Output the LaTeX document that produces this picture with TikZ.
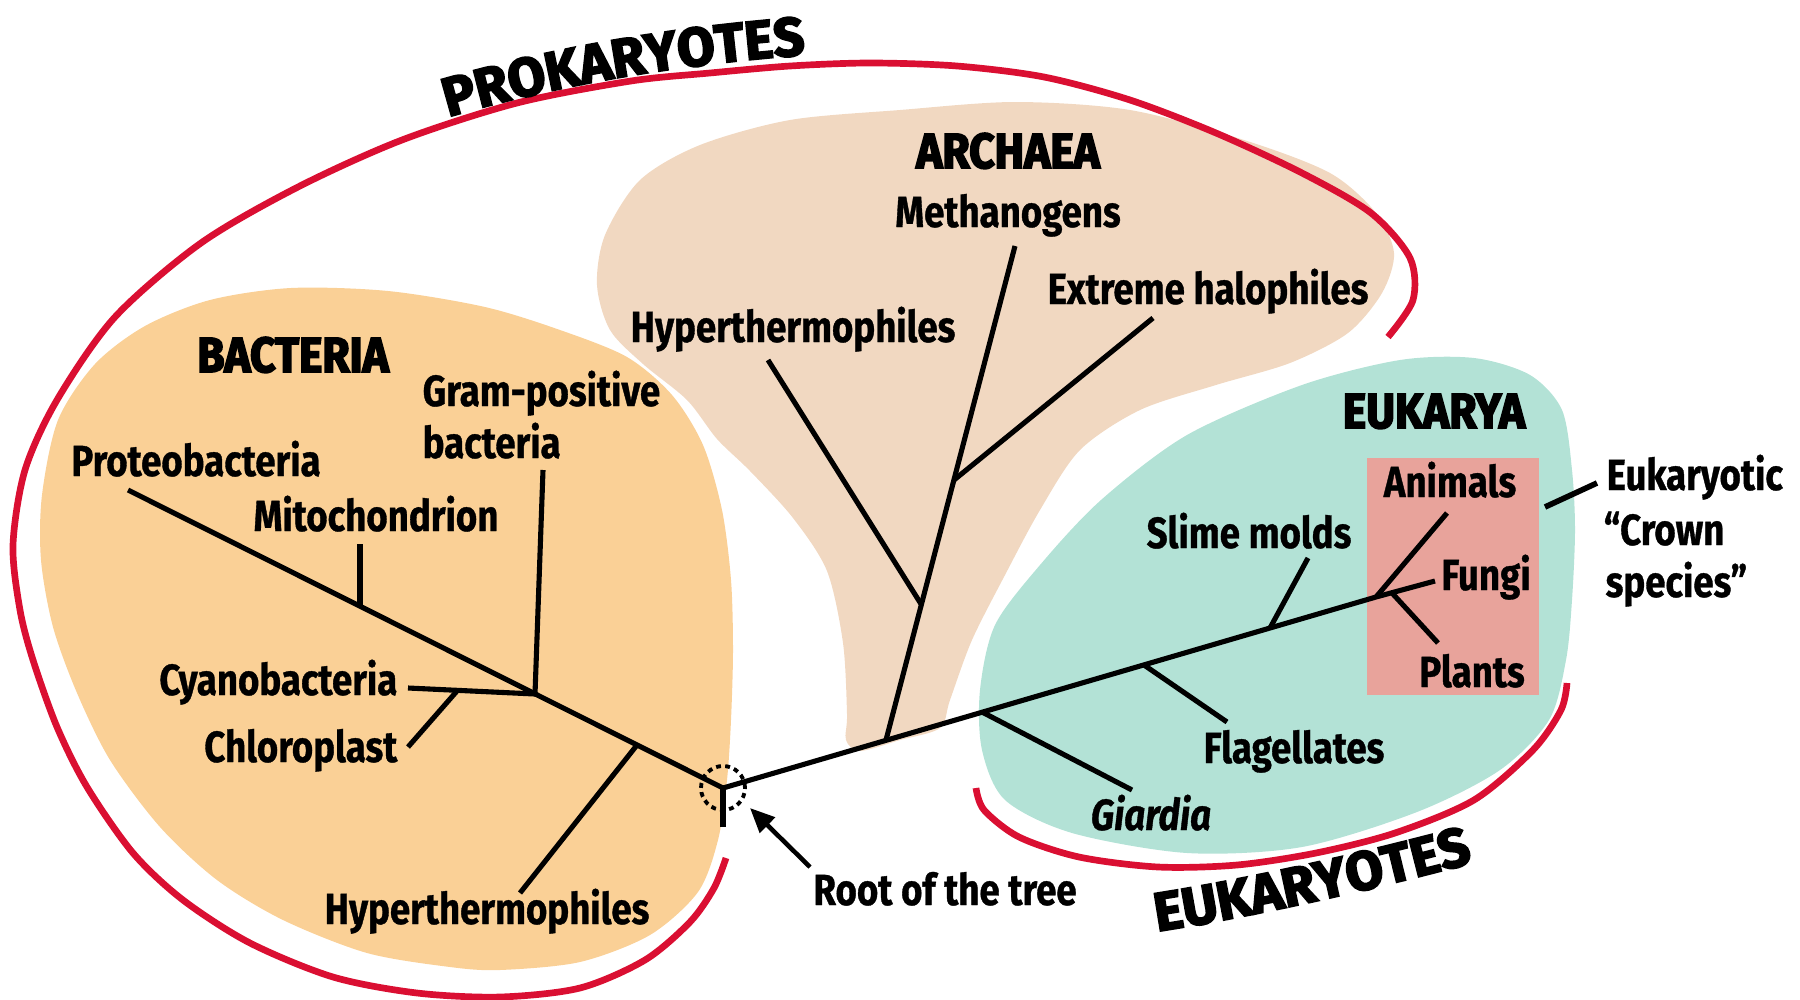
\documentclass[tikz,border=0pt]{standalone}
\usepackage{fontspec}
\usepackage{xcolor}
\usepackage{tikz}
\usetikzlibrary{arrows.meta,decorations.text}
\newfontfamily\labelfont{Fira Sans}[FakeStretch=0.84,FakeBold=0.8]
\newfontfamily\headfont{Fira Sans}[FakeStretch=0.9,FakeBold=3.5]
\newfontfamily\namefont{Fira Sans}[FakeStretch=1.0,FakeBold=3.5]
\definecolor{bactorange}{HTML}{FAD096}
\definecolor{archbeige}{HTML}{F1D8C1}
\definecolor{eukgreen}{HTML}{B3E2D6}
\definecolor{crownpink}{HTML}{E8A39B}
\definecolor{arcred}{HTML}{DA0F32}

\begin{document}
\begin{tikzpicture}[x=0.01cm,y=-0.01cm,
  lbl/.style={font=\labelfont\bfseries\fontsize{12.4}{15}\selectfont,inner sep=0pt,anchor=base},
  lblit/.style={lbl,font=\labelfont\bfseries\itshape\fontsize{12.4}{15}\selectfont},
  head/.style={font=\headfont\bfseries\fontsize{14}{16}\selectfont,inner sep=0pt,anchor=base},
  branch/.style={line width=1.45pt},
  redarc/.style={arcred,line width=1.9pt}]
  \useasboundingbox (0,0) rectangle (1800,1000);
  % domain shapes
  \fill[bactorange] plot[smooth cycle] coordinates {(291,288) (388,291) (485,307) (560,330) (627,357)
    (672,395) (703,445) (722,510) (731,580) (733,650) (731,720) (727,780) (718,840) (698,892)
    (650,935) (580,962) (500,970) (450,967) (367,953) (283,920) (217,880) (160,827) (110,760)
    (77,693) (53,627) (41,560) (42,495) (58,420) (95,364) (145,326) (210,300)};
  \fill[archbeige] plot[smooth cycle] coordinates {(900,110) (1015,102) (1130,110) (1244,140)
    (1330,173) (1376,213) (1394,253) (1382,293) (1348,333) (1290,363) (1216,385) (1140,410)
    (1080,450) (1040,510) (1005,575) (972,640) (950,700) (940,728) (900,740) (860,751)
    (846,740) (847,714) (843,643) (827,571) (793,518) (750,471) (717,439) (687,400) (643,364)
    (610,330) (597,285) (605,235) (640,180) (700,145) (790,120)};
  \fill[eukgreen] plot[smooth cycle] coordinates {(1474,358) (1530,375) (1562,410) (1572,470)
    (1575,530) (1572,600) (1566,660) (1549,720) (1500,770) (1417,812) (1302,847) (1187,853)
    (1072,833) (1005,800) (982,750) (980,690) (995,625) (1040,565) (1101,500) (1187,435)
    (1302,385) (1400,360)};
  \fill[crownpink] (1367,458) rectangle (1539,695);
  % red brackets
  \draw[redarc] plot[smooth] coordinates {(1388,337) (1413,300) (1410,258) (1371,213) (1302,173)
    (1216,133) (1130,100) (1044,77) (957,66) (870,63) (790,66) (710,73) (631,81) (517,103)
    (402,140) (298,187) (201,243) (115,317) (57,400) (25,470) (13,545) (20,610) (33,660)
    (57,727) (87,787) (133,853) (183,900) (250,943) (333,977) (417,993) (500,997) (580,988)
    (645,960) (690,922) (714,888) (726,858)};
  \draw[redarc] plot[smooth] coordinates {(976,788) (984,810) (1019,837) (1079,857) (1158,867)
    (1237,865) (1316,853) (1395,833) (1474,800) (1533,750) (1561,710) (1567,683)};
  % tree points
  \coordinate (root) at (723,788);
  \coordinate (rootend) at (723,827);
  \coordinate (proteotip) at (128,490);
  \coordinate (mitoj) at (360,606);
  \coordinate (mitotip) at (360,544);
  \coordinate (gramj) at (535,694);
  \coordinate (gramtip) at (543,470);
  \coordinate (cyanotip) at (408,688);
  \coordinate (chloroj) at (457,691);
  \coordinate (chlorotip) at (408,747);
  \coordinate (hypbj) at (637,745);
  \coordinate (hypbtip) at (520,893);
  \coordinate (archj) at (886,740);
  \coordinate (methtip) at (1015,246);
  \coordinate (hypaj) at (921,604);
  \coordinate (hypatip) at (768,360);
  \coordinate (haloj) at (954,480);
  \coordinate (halotip) at (1153,318);
  \coordinate (giardiaj) at (982,712);
  \coordinate (giardiatip) at (1132,790);
  \coordinate (flagj) at (1144,665);
  \coordinate (flagtip) at (1227,722);
  \coordinate (slimej) at (1270,628);
  \coordinate (slimetip) at (1308,558);
  \coordinate (crownj) at (1376,597);
  \coordinate (fungitip) at (1435,581);
  \coordinate (animaltip) at (1447,513);
  \coordinate (plantj) at (1392,593);
  \coordinate (planttip) at (1438,643);
  % branches
  \draw[branch] (proteotip) -- (root) -- (crownj) -- (fungitip);
  \draw[branch] (root) -- (rootend);
  \draw[branch] (mitoj) -- (mitotip);
  \draw[branch] (gramj) -- (gramtip);
  \draw[branch] (gramj) -- (cyanotip);
  \draw[branch] (chloroj) -- (chlorotip);
  \draw[branch] (hypbj) -- (hypbtip);
  \draw[branch] (archj) -- (methtip);
  \draw[branch] (hypaj) -- (hypatip);
  \draw[branch] (haloj) -- (halotip);
  \draw[branch] (giardiaj) -- (giardiatip);
  \draw[branch] (flagj) -- (flagtip);
  \draw[branch] (slimej) -- (slimetip);
  \draw[branch] (crownj) -- (animaltip);
  \draw[branch] (plantj) -- (planttip);
  \draw[line width=1.1pt,dash pattern=on 1.4pt off 1.2pt] (root) circle[radius=2.2mm];
  % pointers
  \coordinate (rootptr) at (810,867);
  \coordinate (roottip) at (750,808);
  \draw[line width=1.3pt,-{Triangle[length=7pt,width=6pt]}] (rootptr) -- (roottip);
  \coordinate (crownptr) at (1545,507);
  \coordinate (crowntxt) at (1597,483);
  \draw[line width=1.6pt] (crownptr) -- (crowntxt);
  % group names along the brackets
  \path[decorate,decoration={text along path,text align=center,
    text={|\namefont\bfseries\fontsize{15.5}{18}\selectfont|PROKARYOTES}}]
    (425,124) .. controls (560,82) and (695,62) .. (830,53);
  \path[decorate,decoration={text along path,text align=center,
    text={|\namefont\bfseries\fontsize{15.5}{18}\selectfont|EUKARYOTES}}]
    (1140,934) .. controls (1250,918) and (1380,888) .. (1490,858);
  \node[head] (bacthead) at (293,372) {BACTERIA};
  \node[head] (archhead) at (1008,168) {ARCHAEA};
  \node[head] (eukhead) at (1434,428) {EUKARYA};
  % labels
  \node[lbl] (proteo) at (196,476) {Proteobacteria};
  \node[lbl] (mito) at (376,531) {Mitochondrion};
  \node[lbl,anchor=base west] (gram) at (422,406) {Gram-positive};
  \node[lbl,anchor=base west] (gramb) at (422,458) {bacteria};
  \node[lbl,anchor=base east] (cyano) at (398,695) {Cyanobacteria};
  \node[lbl,anchor=base east] (chloro) at (398,762) {Chloroplast};
  \node[lbl] (hypb) at (487,924) {Hyperthermophiles};
  \node[lbl] (hypa) at (793,342) {Hyperthermophiles};
  \node[lbl] (meth) at (1008,227) {Methanogens};
  \node[lbl] (halo) at (1208,304) {Extreme halophiles};
  \node[lbl] (slime) at (1249,548) {Slime molds};
  \node[lbl] (animals) at (1450,497) {Animals};
  \node[lbl] (fungi) at (1486,590) {Fungi};
  \node[lbl] (plants) at (1472,687) {Plants};
  \node[lbl] (flag) at (1294,763) {Flagellates};
  \node[lblit] (giardia) at (1151,830) {Giardia};
  \node[lbl,anchor=base west] (eukx) at (1606,490) {Eukaryotic};
  \node[lbl,anchor=base west] (crownq) at (1603,545) {“Crown};
  \node[lbl,anchor=base west] (species) at (1605,597) {species”};
  \node[lbl] (rootlbl) at (945,905) {Root of the tree};
\end{tikzpicture}
\end{document}
